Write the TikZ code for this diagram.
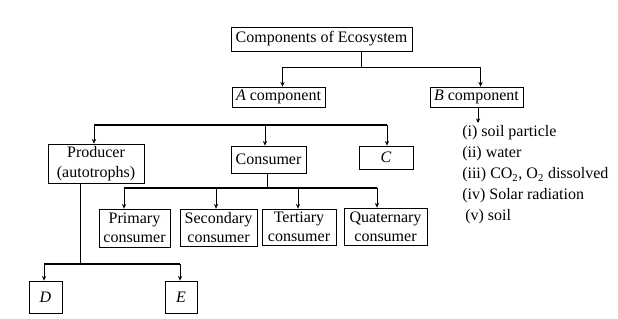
\documentclass[tikz,border=0pt]{standalone}
\usepackage{fontspec}
\setmainfont{Liberation Serif}
\usetikzlibrary{arrows.meta}

\begin{document}
\begin{tikzpicture}[x=0.75pt,y=-0.75pt,
    box/.style={draw,line width=0.6pt,inner sep=1pt,align=center,
      font=\fontsize{12}{14.5}\selectfont},
    sz/.style 2 args={minimum width=#1*0.75pt,minimum height=#2*0.75pt},
    arr/.style={-{Stealth[length=3.5pt,width=3.2pt]},line width=0.7pt},
    bar/.style={line width=1.3pt},
    lbl/.style={anchor=west,inner sep=0pt,font=\fontsize{12}{14.5}\selectfont}]
    \useasboundingbox (0,0) rectangle (618,318);
    % boxes
    \node[box,sz={181}{24}] (eco) at (321.5,39) {Components of Ecosystem};
    \node[box,sz={93}{20}] (acomp) at (278.5,97) {\textit{A} component};
    \node[box,sz={93}{20}] (bcomp) at (476.5,97) {\textit{B} component};
    \node[box,sz={96}{39}] (prod) at (96,163.5) {Producer\\(autotrophs)};
    \node[box,sz={75}{27}] (cons) at (268.5,159.5) {Consumer};
    \node[box,sz={54}{23}] (cc) at (386,157.5) {\textit{C}};
    \node[box,sz={71}{38}] (prim) at (134.5,228) {Primary\\consumer};
    \node[box,sz={77}{37}] (sec) at (218.5,227.5) {Secondary\\consumer};
    \node[box,sz={74}{36}] (tert) at (299,227) {Tertiary\\consumer};
    \node[box,sz={83}{37}] (quat) at (385.5,226.5) {Quaternary\\consumer};
    \node[box,sz={33}{32}] (dd) at (45.5,297) {\textit{D}};
    \node[box,sz={32}{32}] (ee) at (181,297) {\textit{E}};
    % abiotic list
    \node[lbl] (b1) at (462,133) {(i) soil particle};
    \node[lbl] (b2) at (462,154) {(ii) water};
    \node[lbl] (b3) at (462,175) {(iii) CO\textsubscript{2}, O\textsubscript{2} dissolved};
    \node[lbl] (b4) at (462,196) {(iv) Solar radiation};
    \node[lbl] (b5) at (465,217) {(v) soil};
    % top split
    \coordinate (j1) at (361,67);
    \draw[line width=0.7pt] (eco.south -| j1) -- (j1);
    \draw[arr] (j1) -| ([xshift=3pt]acomp.north);
    \draw[arr] (j1) -| ([xshift=3pt]bcomp.north);
    \coordinate (bend) at (478,123);
    \draw[arr] (bcomp.south -| bend) -- (bend);
    % A component split
    \coordinate (j2l) at (94,125);
    \coordinate (j2c) at (265,125);
    \coordinate (j2r) at (387,125);
    \draw[bar] (j2l) -- (j2r);
    \draw[arr] (j2l) -- (prod.north -| j2l);
    \draw[arr] (j2c) -- (cons.north -| j2c);
    \draw[arr] (j2r) -- (cc.north -| j2r);
    % consumers
    \coordinate (j3) at (267,188);
    \coordinate (c1) at (124,188);
    \coordinate (c2) at (216,188);
    \coordinate (c3) at (298,188);
    \coordinate (c4) at (377,188);
    \draw[line width=0.7pt] (cons.south -| j3) -- (j3);
    \draw[line width=0.9pt] (c1) -- (c4);
    \draw[arr] (c1) -- (prim.north -| c1);
    \draw[arr] (c2) -- (sec.north -| c2);
    \draw[arr] (c3) -- (tert.north -| c3);
    \draw[arr] (c4) -- (quat.north -| c4);
    % producer
    \coordinate (j4) at (80,264);
    \coordinate (d1) at (44,264);
    \coordinate (e1) at (180,264);
    \draw[line width=0.7pt] (prod.south -| j4) -- (j4);
    \draw[bar] (d1) -- (e1);
    \draw[arr] (d1) -- (dd.north -| d1);
    \draw[arr] (e1) -- (ee.north -| e1);
\end{tikzpicture}
\end{document}
